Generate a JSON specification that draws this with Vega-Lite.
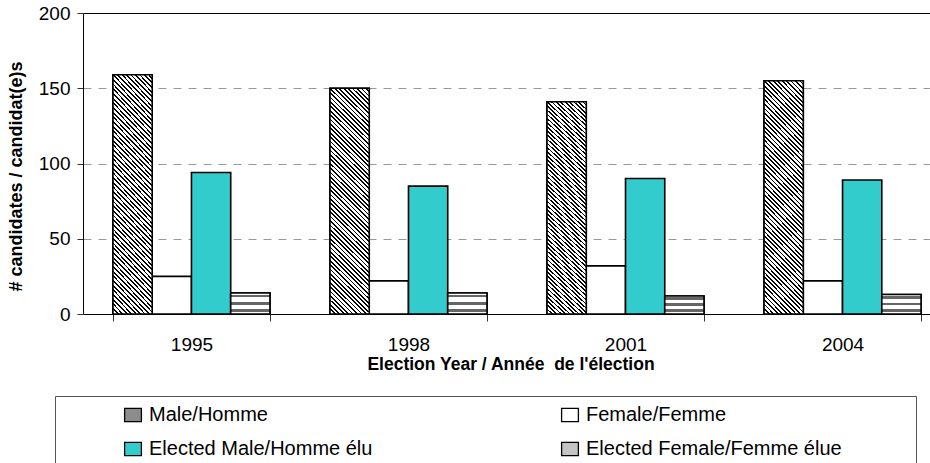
{
  "$schema": "https://vega.github.io/schema/vega-lite/v6.json",
  "width": 847,
  "height": 301,
  "autosize": {"type": "none"},
  "padding": {"left": 83, "top": 13, "right": 0, "bottom": 149},
  "background": "white",
  "config": {
    "view": {"stroke": null},
    "font": "Liberation Sans",
    "axis": {"labelFont": "Liberation Sans", "titleFont": "Liberation Sans", "labelColor": "black", "titleColor": "black", "domainColor": "black", "tickColor": "#333"}
  },
  "data": {
    "values": [
      {"year": "1995", "series": "Male/Homme", "value": 159},
      {"year": "1995", "series": "Female/Femme", "value": 25},
      {"year": "1995", "series": "Elected Male/Homme élu", "value": 94},
      {"year": "1995", "series": "Elected Female/Femme élue", "value": 14},
      {"year": "1998", "series": "Male/Homme", "value": 150},
      {"year": "1998", "series": "Female/Femme", "value": 22},
      {"year": "1998", "series": "Elected Male/Homme élu", "value": 85},
      {"year": "1998", "series": "Elected Female/Femme élue", "value": 14},
      {"year": "2001", "series": "Male/Homme", "value": 141},
      {"year": "2001", "series": "Female/Femme", "value": 32},
      {"year": "2001", "series": "Elected Male/Homme élu", "value": 90},
      {"year": "2001", "series": "Elected Female/Femme élue", "value": 12},
      {"year": "2004", "series": "Male/Homme", "value": 155},
      {"year": "2004", "series": "Female/Femme", "value": 22},
      {"year": "2004", "series": "Elected Male/Homme élu", "value": 89},
      {"year": "2004", "series": "Elected Female/Femme élue", "value": 13}
    ]
  },
  "encoding": {
    "x": {
      "field": "year",
      "type": "nominal",
      "scale": {"type": "band", "domain": ["1995", "1998", "2001", "2004"], "range": [0, 868], "paddingInner": 0.2765, "paddingOuter": 0.138},
      "axis": {
        "title": "Election Year / Année\u00a0 de l'élection",
        "titleFontSize": 17.5,
        "titleFontWeight": "bold",
        "titleX": 427.5,
        "titleY": 41.5,
        "labelAngle": 0,
        "labelFontSize": 19,
        "labelPadding": 14,
        "tickSize": 7,
        "tickBand": "extent",
        "grid": false,
        "domainColor": "black",
        "domainWidth": 1
      }
    },
    "xOffset": {
      "field": "series",
      "type": "nominal",
      "scale": {"domain": ["Male/Homme", "Female/Femme", "Elected Male/Homme élu", "Elected Female/Femme élue"]}
    },
    "y": {
      "field": "value",
      "type": "quantitative",
      "scale": {"domain": [0, 200], "nice": false},
      "axis": {
        "values": [0, 50, 100, 150, 200],
        "title": "# candidates / candidat(e)s",
        "titleFontSize": 18,
        "titleFontWeight": "bold",
        "titleX": -58,
        "titleY": 163,
        "labelFontSize": 19,
        "labelPadding": 7,
        "tickSize": 6,
        "grid": true,
        "gridColor": {"condition": {"test": "datum.value == 200", "value": "black"}, "value": "#999999"},
        "gridDash": {"condition": {"test": "datum.value == 200", "value": []}, "value": [8, 7]},
        "domainColor": "black",
        "domainWidth": 1
      }
    }
  },
  "layer": [
    {
      "mark": {"type": "bar", "stroke": "black", "strokeWidth": 1.6},
      "encoding": {
        "color": {
          "field": "series",
          "type": "nominal",
          "scale": {
            "domain": ["Male/Homme", "Female/Femme", "Elected Male/Homme élu", "Elected Female/Femme élue"],
            "range": ["#8c8c8c", "#ffffff", "#33cccc", "#c4c4c4"]
          },
          "legend": {
            "orient": "none",
            "direction": "horizontal",
            "legendX": -28,
            "legendY": 383,
            "columns": 2,
            "title": "\u00a0",
            "titleOrient": "left",
            "titleFontSize": 1,
            "titlePadding": 59,
            "padding": 9,
            "strokeColor": "#555555",
            "fillColor": "white",
            "labelFont": "Liberation Sans",
            "labelFontSize": 20,
            "labelColor": "black",
            "labelLimit": 0,
            "labelOffset": 6,
            "labelExpr": "test(/Elected Female/, datum.label) ? datum.label + '\u00a0\u00a0\u00a0\u00a0\u00a0\u00a0\u00a0\u00a0\u00a0\u2800' : datum.label",
            "symbolType": "M-1.2,-0.95L1.2,-0.95L1.2,0.95L-1.2,0.95Z",
            "symbolSize": 196,
            "symbolStrokeColor": "black",
            "symbolStrokeWidth": 1.3,
            "symbolOpacity": 1,
            "rowPadding": 14,
            "columnPadding": 186
          }
        }
      }
    },
    {
      "transform": [{"filter": "datum.series == 'Male/Homme'"}],
      "mark": {
        "type": "bar",
        "stroke": "black",
        "strokeWidth": 1.6,
        "fill": {
          "gradient": "linear",
          "x1": 0, "y1": 1, "x2": 0.1963, "y2": -0.1386,
          "stops": [
            {"offset": 0, "color": "#000"}, {"offset": 0.0067, "color": "#000"}, {"offset": 0.0067, "color": "#fff"}, {"offset": 0.0167, "color": "#fff"},
            {"offset": 0.0167, "color": "#000"}, {"offset": 0.0233, "color": "#000"}, {"offset": 0.0233, "color": "#fff"}, {"offset": 0.0333, "color": "#fff"},
            {"offset": 0.0333, "color": "#000"}, {"offset": 0.04, "color": "#000"}, {"offset": 0.04, "color": "#fff"}, {"offset": 0.05, "color": "#fff"},
            {"offset": 0.05, "color": "#000"}, {"offset": 0.0567, "color": "#000"}, {"offset": 0.0567, "color": "#fff"}, {"offset": 0.0667, "color": "#fff"},
            {"offset": 0.0667, "color": "#000"}, {"offset": 0.0733, "color": "#000"}, {"offset": 0.0733, "color": "#fff"}, {"offset": 0.0833, "color": "#fff"},
            {"offset": 0.0833, "color": "#000"}, {"offset": 0.09, "color": "#000"}, {"offset": 0.09, "color": "#fff"}, {"offset": 0.1, "color": "#fff"},
            {"offset": 0.1, "color": "#000"}, {"offset": 0.1067, "color": "#000"}, {"offset": 0.1067, "color": "#fff"}, {"offset": 0.1167, "color": "#fff"},
            {"offset": 0.1167, "color": "#000"}, {"offset": 0.1233, "color": "#000"}, {"offset": 0.1233, "color": "#fff"}, {"offset": 0.1333, "color": "#fff"},
            {"offset": 0.1333, "color": "#000"}, {"offset": 0.14, "color": "#000"}, {"offset": 0.14, "color": "#fff"}, {"offset": 0.15, "color": "#fff"},
            {"offset": 0.15, "color": "#000"}, {"offset": 0.1567, "color": "#000"}, {"offset": 0.1567, "color": "#fff"}, {"offset": 0.1667, "color": "#fff"},
            {"offset": 0.1667, "color": "#000"}, {"offset": 0.1733, "color": "#000"}, {"offset": 0.1733, "color": "#fff"}, {"offset": 0.1833, "color": "#fff"},
            {"offset": 0.1833, "color": "#000"}, {"offset": 0.19, "color": "#000"}, {"offset": 0.19, "color": "#fff"}, {"offset": 0.2, "color": "#fff"},
            {"offset": 0.2, "color": "#000"}, {"offset": 0.2067, "color": "#000"}, {"offset": 0.2067, "color": "#fff"}, {"offset": 0.2167, "color": "#fff"},
            {"offset": 0.2167, "color": "#000"}, {"offset": 0.2233, "color": "#000"}, {"offset": 0.2233, "color": "#fff"}, {"offset": 0.2333, "color": "#fff"},
            {"offset": 0.2333, "color": "#000"}, {"offset": 0.24, "color": "#000"}, {"offset": 0.24, "color": "#fff"}, {"offset": 0.25, "color": "#fff"},
            {"offset": 0.25, "color": "#000"}, {"offset": 0.2567, "color": "#000"}, {"offset": 0.2567, "color": "#fff"}, {"offset": 0.2667, "color": "#fff"},
            {"offset": 0.2667, "color": "#000"}, {"offset": 0.2733, "color": "#000"}, {"offset": 0.2733, "color": "#fff"}, {"offset": 0.2833, "color": "#fff"},
            {"offset": 0.2833, "color": "#000"}, {"offset": 0.29, "color": "#000"}, {"offset": 0.29, "color": "#fff"}, {"offset": 0.3, "color": "#fff"},
            {"offset": 0.3, "color": "#000"}, {"offset": 0.3067, "color": "#000"}, {"offset": 0.3067, "color": "#fff"}, {"offset": 0.3167, "color": "#fff"},
            {"offset": 0.3167, "color": "#000"}, {"offset": 0.3233, "color": "#000"}, {"offset": 0.3233, "color": "#fff"}, {"offset": 0.3333, "color": "#fff"},
            {"offset": 0.3333, "color": "#000"}, {"offset": 0.34, "color": "#000"}, {"offset": 0.34, "color": "#fff"}, {"offset": 0.35, "color": "#fff"},
            {"offset": 0.35, "color": "#000"}, {"offset": 0.3567, "color": "#000"}, {"offset": 0.3567, "color": "#fff"}, {"offset": 0.3667, "color": "#fff"},
            {"offset": 0.3667, "color": "#000"}, {"offset": 0.3733, "color": "#000"}, {"offset": 0.3733, "color": "#fff"}, {"offset": 0.3833, "color": "#fff"},
            {"offset": 0.3833, "color": "#000"}, {"offset": 0.39, "color": "#000"}, {"offset": 0.39, "color": "#fff"}, {"offset": 0.4, "color": "#fff"},
            {"offset": 0.4, "color": "#000"}, {"offset": 0.4067, "color": "#000"}, {"offset": 0.4067, "color": "#fff"}, {"offset": 0.4167, "color": "#fff"},
            {"offset": 0.4167, "color": "#000"}, {"offset": 0.4233, "color": "#000"}, {"offset": 0.4233, "color": "#fff"}, {"offset": 0.4333, "color": "#fff"},
            {"offset": 0.4333, "color": "#000"}, {"offset": 0.44, "color": "#000"}, {"offset": 0.44, "color": "#fff"}, {"offset": 0.45, "color": "#fff"},
            {"offset": 0.45, "color": "#000"}, {"offset": 0.4567, "color": "#000"}, {"offset": 0.4567, "color": "#fff"}, {"offset": 0.4667, "color": "#fff"},
            {"offset": 0.4667, "color": "#000"}, {"offset": 0.4733, "color": "#000"}, {"offset": 0.4733, "color": "#fff"}, {"offset": 0.4833, "color": "#fff"},
            {"offset": 0.4833, "color": "#000"}, {"offset": 0.49, "color": "#000"}, {"offset": 0.49, "color": "#fff"}, {"offset": 0.5, "color": "#fff"},
            {"offset": 0.5, "color": "#000"}, {"offset": 0.5067, "color": "#000"}, {"offset": 0.5067, "color": "#fff"}, {"offset": 0.5167, "color": "#fff"},
            {"offset": 0.5167, "color": "#000"}, {"offset": 0.5233, "color": "#000"}, {"offset": 0.5233, "color": "#fff"}, {"offset": 0.5333, "color": "#fff"},
            {"offset": 0.5333, "color": "#000"}, {"offset": 0.54, "color": "#000"}, {"offset": 0.54, "color": "#fff"}, {"offset": 0.55, "color": "#fff"},
            {"offset": 0.55, "color": "#000"}, {"offset": 0.5567, "color": "#000"}, {"offset": 0.5567, "color": "#fff"}, {"offset": 0.5667, "color": "#fff"},
            {"offset": 0.5667, "color": "#000"}, {"offset": 0.5733, "color": "#000"}, {"offset": 0.5733, "color": "#fff"}, {"offset": 0.5833, "color": "#fff"},
            {"offset": 0.5833, "color": "#000"}, {"offset": 0.59, "color": "#000"}, {"offset": 0.59, "color": "#fff"}, {"offset": 0.6, "color": "#fff"},
            {"offset": 0.6, "color": "#000"}, {"offset": 0.6067, "color": "#000"}, {"offset": 0.6067, "color": "#fff"}, {"offset": 0.6167, "color": "#fff"},
            {"offset": 0.6167, "color": "#000"}, {"offset": 0.6233, "color": "#000"}, {"offset": 0.6233, "color": "#fff"}, {"offset": 0.6333, "color": "#fff"},
            {"offset": 0.6333, "color": "#000"}, {"offset": 0.64, "color": "#000"}, {"offset": 0.64, "color": "#fff"}, {"offset": 0.65, "color": "#fff"},
            {"offset": 0.65, "color": "#000"}, {"offset": 0.6567, "color": "#000"}, {"offset": 0.6567, "color": "#fff"}, {"offset": 0.6667, "color": "#fff"},
            {"offset": 0.6667, "color": "#000"}, {"offset": 0.6733, "color": "#000"}, {"offset": 0.6733, "color": "#fff"}, {"offset": 0.6833, "color": "#fff"},
            {"offset": 0.6833, "color": "#000"}, {"offset": 0.69, "color": "#000"}, {"offset": 0.69, "color": "#fff"}, {"offset": 0.7, "color": "#fff"},
            {"offset": 0.7, "color": "#000"}, {"offset": 0.7067, "color": "#000"}, {"offset": 0.7067, "color": "#fff"}, {"offset": 0.7167, "color": "#fff"},
            {"offset": 0.7167, "color": "#000"}, {"offset": 0.7233, "color": "#000"}, {"offset": 0.7233, "color": "#fff"}, {"offset": 0.7333, "color": "#fff"},
            {"offset": 0.7333, "color": "#000"}, {"offset": 0.74, "color": "#000"}, {"offset": 0.74, "color": "#fff"}, {"offset": 0.75, "color": "#fff"},
            {"offset": 0.75, "color": "#000"}, {"offset": 0.7567, "color": "#000"}, {"offset": 0.7567, "color": "#fff"}, {"offset": 0.7667, "color": "#fff"},
            {"offset": 0.7667, "color": "#000"}, {"offset": 0.7733, "color": "#000"}, {"offset": 0.7733, "color": "#fff"}, {"offset": 0.7833, "color": "#fff"},
            {"offset": 0.7833, "color": "#000"}, {"offset": 0.79, "color": "#000"}, {"offset": 0.79, "color": "#fff"}, {"offset": 0.8, "color": "#fff"},
            {"offset": 0.8, "color": "#000"}, {"offset": 0.8067, "color": "#000"}, {"offset": 0.8067, "color": "#fff"}, {"offset": 0.8167, "color": "#fff"},
            {"offset": 0.8167, "color": "#000"}, {"offset": 0.8233, "color": "#000"}, {"offset": 0.8233, "color": "#fff"}, {"offset": 0.8333, "color": "#fff"},
            {"offset": 0.8333, "color": "#000"}, {"offset": 0.84, "color": "#000"}, {"offset": 0.84, "color": "#fff"}, {"offset": 0.85, "color": "#fff"},
            {"offset": 0.85, "color": "#000"}, {"offset": 0.8567, "color": "#000"}, {"offset": 0.8567, "color": "#fff"}, {"offset": 0.8667, "color": "#fff"},
            {"offset": 0.8667, "color": "#000"}, {"offset": 0.8733, "color": "#000"}, {"offset": 0.8733, "color": "#fff"}, {"offset": 0.8833, "color": "#fff"},
            {"offset": 0.8833, "color": "#000"}, {"offset": 0.89, "color": "#000"}, {"offset": 0.89, "color": "#fff"}, {"offset": 0.9, "color": "#fff"},
            {"offset": 0.9, "color": "#000"}, {"offset": 0.9067, "color": "#000"}, {"offset": 0.9067, "color": "#fff"}, {"offset": 0.9167, "color": "#fff"},
            {"offset": 0.9167, "color": "#000"}, {"offset": 0.9233, "color": "#000"}, {"offset": 0.9233, "color": "#fff"}, {"offset": 0.9333, "color": "#fff"},
            {"offset": 0.9333, "color": "#000"}, {"offset": 0.94, "color": "#000"}, {"offset": 0.94, "color": "#fff"}, {"offset": 0.95, "color": "#fff"},
            {"offset": 0.95, "color": "#000"}, {"offset": 0.9567, "color": "#000"}, {"offset": 0.9567, "color": "#fff"}, {"offset": 0.9667, "color": "#fff"},
            {"offset": 0.9667, "color": "#000"}, {"offset": 0.9733, "color": "#000"}, {"offset": 0.9733, "color": "#fff"}, {"offset": 0.9833, "color": "#fff"},
            {"offset": 0.9833, "color": "#000"}, {"offset": 0.99, "color": "#000"}, {"offset": 0.99, "color": "#fff"}, {"offset": 1, "color": "#fff"}
          ]
        }
      }
    },
    {
      "transform": [{"filter": "datum.series == 'Elected Female/Femme élue'"}],
      "mark": {
        "type": "bar",
        "stroke": "black",
        "strokeWidth": 1.6,
        "fill": {
          "gradient": "linear",
          "x1": 0, "y1": 0, "x2": 0, "y2": 1,
          "stops": [
            {"offset": 0, "color": "#fff"}, {"offset": 0.0833, "color": "#fff"}, {"offset": 0.0833, "color": "#666"}, {"offset": 0.2167, "color": "#666"},
            {"offset": 0.2167, "color": "#fff"}, {"offset": 0.4167, "color": "#fff"}, {"offset": 0.4167, "color": "#666"}, {"offset": 0.55, "color": "#666"},
            {"offset": 0.55, "color": "#fff"}, {"offset": 0.75, "color": "#fff"}, {"offset": 0.75, "color": "#666"}, {"offset": 0.8833, "color": "#666"},
            {"offset": 0.8833, "color": "#fff"}, {"offset": 1, "color": "#fff"}
          ]
        }
      }
    }
  ]
}
